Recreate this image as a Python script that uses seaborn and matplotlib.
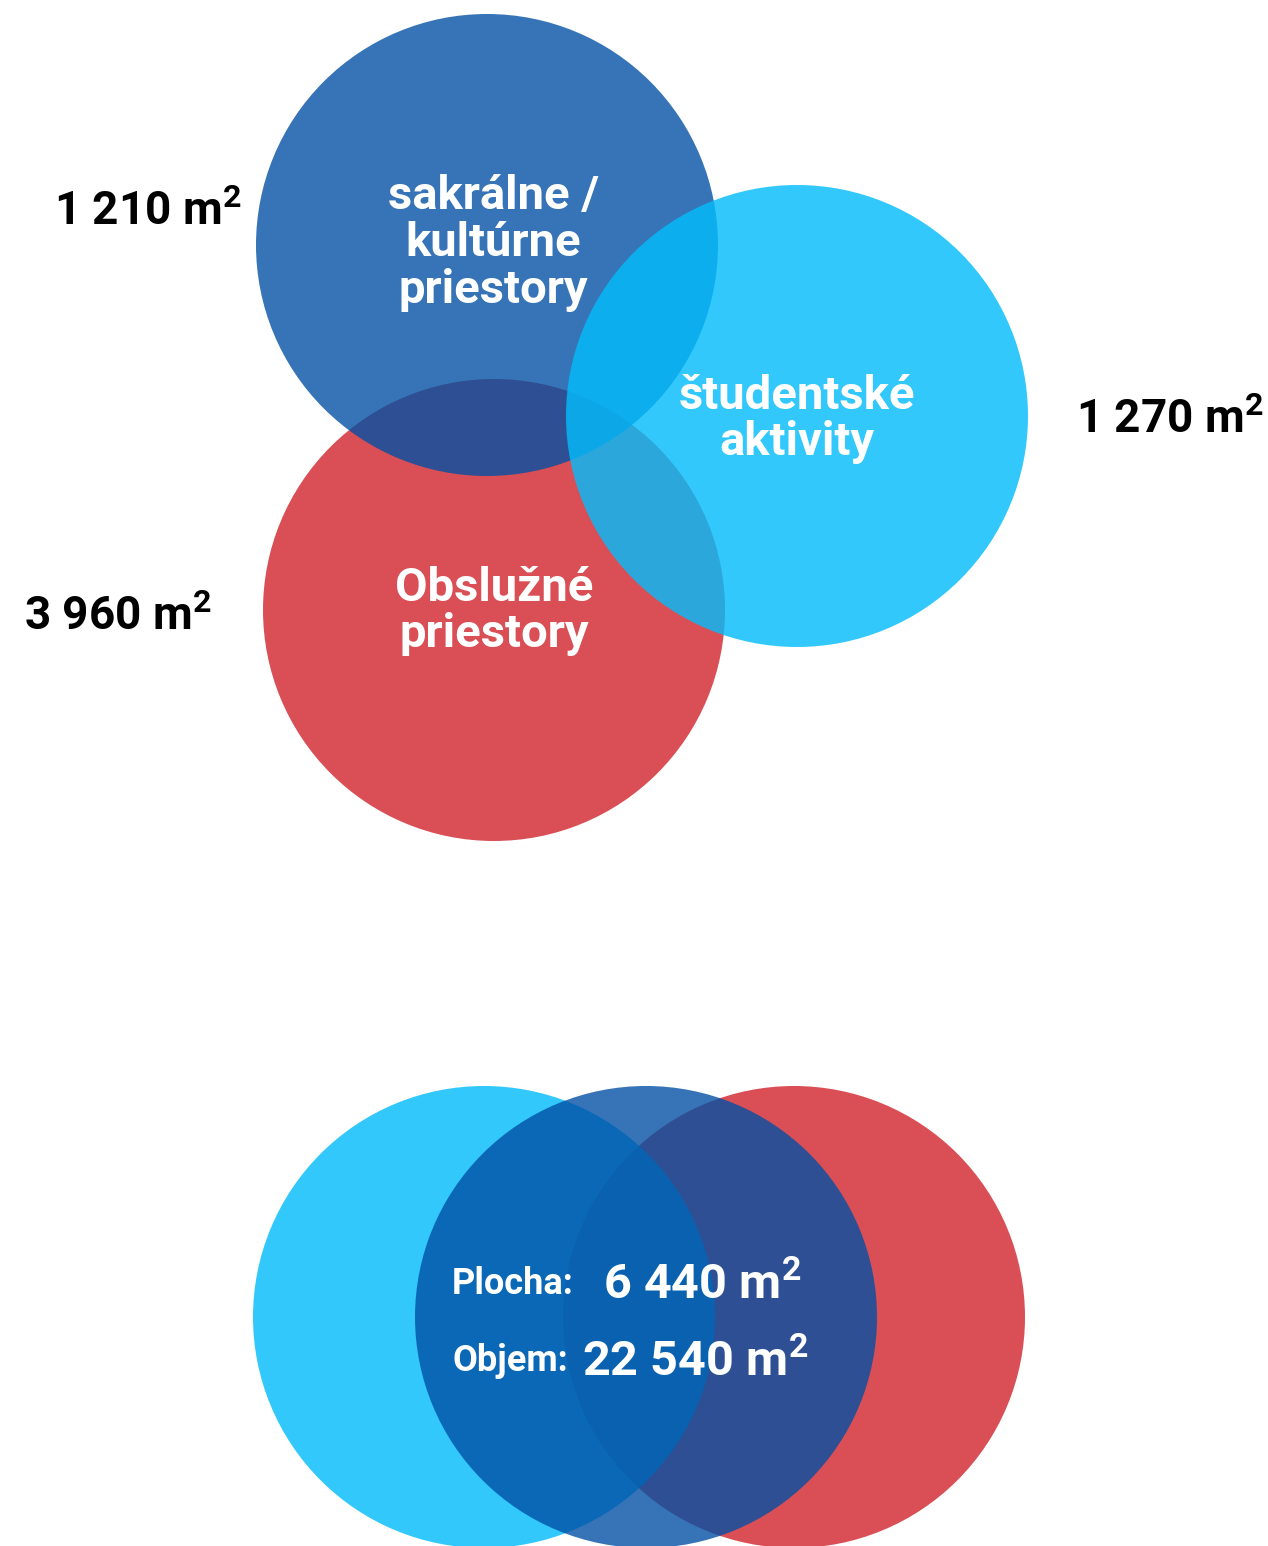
import matplotlib
matplotlib.use("Agg")
import matplotlib.pyplot as plt
from matplotlib.patches import Circle
import seaborn as sns

# top diagram: space categories and their floor areas (m2)
categories = ["sakrálne /\nkultúrne\npriestory", "študentské\naktivity", "Obslužné\npriestory"]
areas = [1210, 1270, 3960]

# bottom diagram: totals
total_labels = ["Plocha:", "Objem:"]
total_values = [6440, 22540]


def fmt(v):
    return f"{v:,}".replace(",", " ") + r" m$^{2}$"


# layout (pixel coordinates of the canvas)
W, H, R = 1268, 1546, 231
DARK = ("#004fa4", 0.79)
CYAN = ("#03bcfc", 0.81)
RED = ("#d94f55", 1.0)

top_circles = [(487, 245, DARK, 2), (797, 416, CYAN, 3), (494, 610, RED, 1)]
top_label_pos = [(493, 243), (797, 419), (494, 611)]
area_pos = [(242, 212, "right"), (1264, 420, "right"), (212, 617, "right")]
bottom_circles = [(484, 1317, CYAN, 2), (646, 1317, DARK, 3), (794, 1317, RED, 1)]

sns.set_theme(style="white")
plt.rcParams["font.family"] = ["Roboto", "DejaVu Sans"]
plt.rcParams["mathtext.fontset"] = "custom"
plt.rcParams["mathtext.rm"] = "Roboto:bold"
plt.rcParams["mathtext.it"] = "Roboto:bold"
plt.rcParams["mathtext.bf"] = "Roboto:bold"
plt.rcParams["mathtext.default"] = "rm"

fig = plt.figure(figsize=(W / 100, H / 100), dpi=100)
ax = fig.add_axes([0, 0, 1, 1])
ax.set_xlim(0, W)
ax.set_ylim(H, 0)
ax.set_aspect("equal")
ax.axis("off")

for cx, cy, (col, a), z in top_circles + bottom_circles:
    ax.add_patch(Circle((cx, cy), R, facecolor=col, alpha=a, edgecolor="none", zorder=z))

for lab, (x, y) in zip(categories, top_label_pos):
    ax.text(x, y, lab, color="white", fontsize=34, fontweight="bold",
            ha="center", va="center", linespacing=1.08, zorder=10)

for v, (x, y, ha) in zip(areas, area_pos):
    ax.text(x, y, fmt(v), color="black", fontsize=33, fontweight="bold",
            ha=ha, va="center", zorder=10)

for i, (lab, v) in enumerate(zip(total_labels, total_values)):
    y = 1284 + i * 77
    ax.text(452, y, lab, color="white", fontsize=26, fontweight="bold",
            ha="left", va="center", zorder=10)
    ax.text(808 if i else 801, y + 2, fmt(v), color="white", fontsize=35,
            fontweight="bold", ha="right", va="center", zorder=10)

fig.savefig("out.png", dpi=100)
